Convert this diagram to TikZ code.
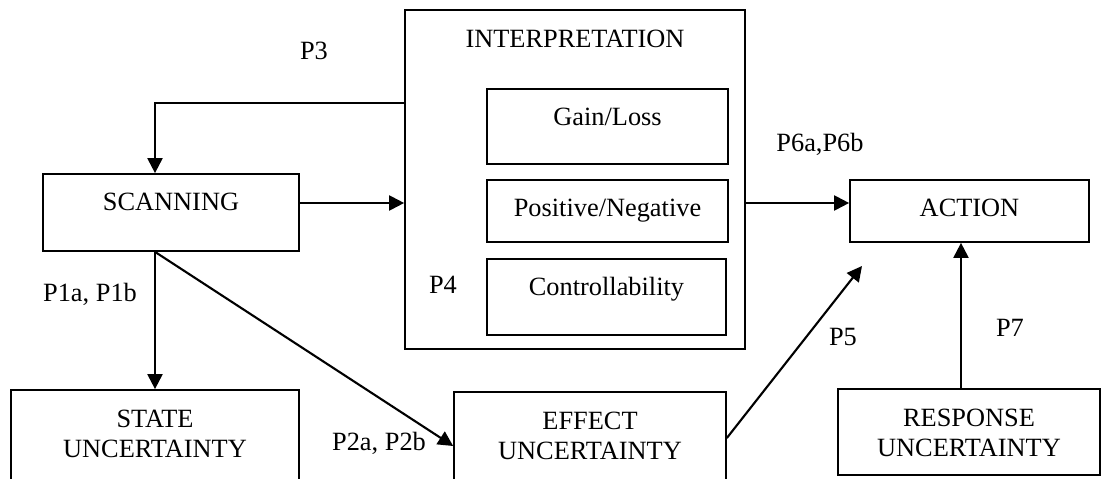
\documentclass[tikz,border=0pt]{standalone}
\usepackage{fontspec}
\setmainfont{Liberation Serif}
\usetikzlibrary{arrows.meta}
\tikzstyle{box} = [rectangle, draw=black, line width=1pt, inner sep=0pt, align=center, text height=0.74cm]
\tikzstyle{lbl} = [inner sep=0pt]
\tikzstyle{arrow} = [line width=1.2pt,-{Triangle[length=0.3cm,width=0.3cm]}]
\newcommand{\twolines}[2]{\begin{tabular}[t]{@{}c@{}}#1\\#2\end{tabular}}

\begin{document}
\begin{tikzpicture}[x=0.02cm,y=-0.02cm,font=\fontsize{15}{17.6}\selectfont]
\useasboundingbox (0,0) rectangle (1102,479);
\clip (0,0) rectangle (1102,479);

\node[box, minimum width=6.8cm, text depth=6.04cm] (interp) at (575,179.5) {INTERPRETATION};
\node[box, minimum width=4.82cm, text depth=0.76cm] (gain) at (607.5,126.5) {Gain/Loss};
\node[box, minimum width=4.82cm, text depth=0.5cm] (posneg) at (607.5,211) {Positive/Negative};
\node[box, minimum width=4.78cm, text depth=0.78cm] (ctrl) at (606.5,297) {Controllability};
\node[box, minimum width=5.12cm, text depth=0.8cm] (scan) at (171,212.5) {SCANNING};
\node[box, minimum width=4.78cm, text depth=0.5cm] (action) at (969.5,211) {ACTION};
\node[box, minimum width=5.76cm, text depth=1.46cm] (state) at (155,445) {\twolines{STATE}{UNCERTAINTY}};
\node[box, minimum width=5.44cm, text depth=1.42cm] (effect) at (590,446) {\twolines{EFFECT}{UNCERTAINTY}};
\node[box, minimum width=5.24cm, text depth=0.98cm] (response) at (969,432) {\twolines{RESPONSE}{UNCERTAINTY}};

\coordinate (fb) at (155,103);
\coordinate (row) at (0,203);
\coordinate (p5end) at (862,266);
\coordinate (resp) at (961,0);

\draw[arrow] (interp.west |- fb) -| (fb |- scan.north);
\draw[arrow] (scan.east |- row) -- (interp.west |- row);
\draw[arrow] (interp.east |- row) -- (action.west |- row);
\draw[arrow] (fb |- scan.south) -- (fb |- state.north);
\draw[arrow] (fb |- scan.south) -- (effect.west);
\draw[arrow] (effect.east |- 0,438) -- (p5end);
\draw[arrow] (resp |- response.north) -- (resp |- action.south);

\node[lbl] (p3) at (314,51) {P3};
\node[lbl] (p6) at (820,144) {P6a,P6b};
\node[lbl] (p1) at (90,294) {P1a, P1b};
\node[lbl] (p4) at (443,285) {P4};
\node[lbl] (p2) at (379,443) {P2a, P2b};
\node[lbl] (p5) at (843,337) {P5};
\node[lbl] (p7) at (1010,328) {P7};
\end{tikzpicture}
\end{document}
